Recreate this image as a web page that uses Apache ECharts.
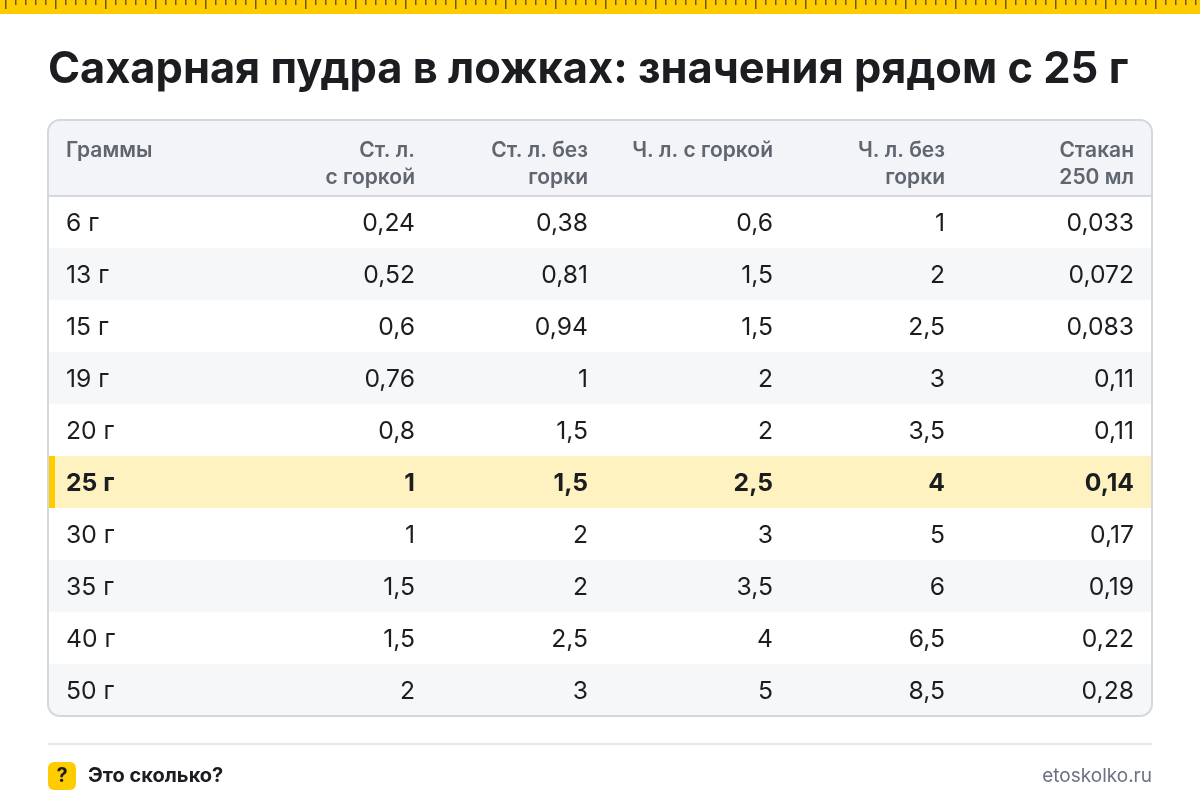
<!DOCTYPE html>
<html><head><meta charset="UTF-8">
<title>Сахарная пудра в ложках</title>
<script src="https://cdn.jsdelivr.net/npm/echarts@6/dist/echarts.min.js"></script>
<style>
  *{margin:0;padding:0}
  html,body{width:1200px;height:808px;background:#fff;overflow:hidden}
  #chart{width:1200px;height:808px}
</style>
</head>
<body>
<div id="chart"></div>
<script>
var titleText = 'Сахарная пудра в ложках: значения рядом с 25 г';
var headers = ['Граммы', 'Ст. л.\nс горкой', 'Ст. л. без\nгорки', 'Ч. л. с горкой', 'Ч. л. без\nгорки', 'Стакан\n250 мл'];
var grams = ['6 г', '13 г', '15 г', '19 г', '20 г', '25 г', '30 г', '35 г', '40 г', '50 г'];
var tbspHeaped = ['0,24', '0,52', '0,6', '0,76', '0,8', '1', '1', '1,5', '1,5', '2'];
var tbspLevel = ['0,38', '0,81', '0,94', '1', '1,5', '1,5', '2', '2', '2,5', '3'];
var tspHeaped = ['0,6', '1,5', '1,5', '2', '2', '2,5', '3', '3,5', '4', '5'];
var tspLevel = ['1', '2', '2,5', '3', '3,5', '4', '5', '6', '6,5', '8,5'];
var glass = ['0,033', '0,072', '0,083', '0,11', '0,11', '0,14', '0,17', '0,19', '0,22', '0,28'];
var highlightRow = '25 г';

var columns = [grams, tbspHeaped, tbspLevel, tspHeaped, tspLevel, glass];
var colX = [66, 415, 588, 773, 945, 1134]; // первая колонка влево, остальные вправо
var FONT = 'Inter, "Noto Sans", sans-serif';
var INK = '#1c1d21';

var cells = [];
columns.forEach(function (col, c) {
  col.forEach(function (v, r) {
    cells.push([colX[c], grams[r], v, c]);
  });
});

// линейка сверху
var ruler = [{ type: 'rect', shape: { x: 0, y: 0, width: 1200, height: 14 }, style: { fill: '#ffcc00' }, z: 1 }];
for (var i = 0; i < 120; i++) {
  var x = 5 + i * 10;
  var h = (i % 5 === 0) ? 9 : 5;
  ruler.push({ type: 'rect', shape: { x: x, y: 0, width: 1.5, height: h }, style: { fill: '#6b5a12' }, z: 2 });
}

var headerTexts = headers.map(function (t, c) {
  return {
    type: 'text', z: 5,
    style: {
      x: colX[c], y: 137, text: t, fill: '#5f6670',
      font: '600 21px ' + FONT, lineHeight: 27,
      textAlign: c === 0 ? 'left' : 'right', textVerticalAlign: 'top'
    }
  };
});

var chart = echarts.init(document.getElementById('chart'), null, { renderer: 'canvas' });
chart.setOption({
  animation: false,
  backgroundColor: '#fff',
  title: {
    text: titleText, left: 48, top: 48, padding: 0,
    textStyle: { fontFamily: FONT, fontSize: 43.4, fontWeight: 700, color: INK }
  },
  tooltip: { show: false },
  grid: { left: 0, top: 196, width: 1200, height: 520 },
  xAxis: { type: 'value', min: 0, max: 1200, show: false },
  yAxis: { type: 'category', data: grams, inverse: true, show: false },
  series: [
    {
      type: 'custom', name: 'rows', silent: true, clip: false, z: 2,
      data: grams.map(function (g) { return [0, g]; }),
      encode: { x: 0, y: 1 },
      renderItem: function (params, api) {
        var r = params.dataIndex;
        var y = api.coord([0, r])[1];
        var band = api.size([0, 1])[1];
        var top = y - band / 2;
        var isHi = grams[r] === highlightRow;
        var fill = isHi ? '#fef2c0' : (r % 2 === 1 ? '#f6f7f9' : '#ffffff');
        var children = [{
          type: 'rect',
          shape: { x: 49, y: top, width: 1102, height: band, r: r === grams.length - 1 ? [0, 0, 11, 11] : 0 },
          style: { fill: fill }
        }];
        if (isHi) {
          children.push({ type: 'rect', shape: { x: 49, y: top, width: 6, height: band }, style: { fill: '#ffcc00' } });
        }
        return { type: 'group', children: children };
      }
    },
    {
      type: 'custom', name: 'cells', silent: true, clip: false, z: 3,
      data: cells,
      encode: { x: 0, y: 1 },
      renderItem: function (params, api) {
        var d = cells[params.dataIndex];
        var p = api.coord([d[0], grams.indexOf(d[1])]);
        var isHi = d[1] === highlightRow;
        return {
          type: 'text',
          style: {
            x: p[0], y: p[1] + 2, text: d[2], fill: INK,
            font: (isHi ? '700' : '400') + ' 24.7px ' + FONT,
            textAlign: d[3] === 0 ? 'left' : 'right', textVerticalAlign: 'middle'
          }
        };
      }
    }
  ],
  graphic: ruler.concat([
    { type: 'rect', z: 0, shape: { x: 48, y: 120, width: 1104, height: 76, r: [12, 12, 0, 0] }, style: { fill: '#f3f4f7' } },
    { type: 'rect', z: 6, shape: { x: 48, y: 195, width: 1104, height: 2 }, style: { fill: '#d3d8e0' } },
    { type: 'rect', z: 7, shape: { x: 48, y: 120, width: 1104, height: 596, r: 12 }, style: { fill: 'none', stroke: '#d3d8e0', lineWidth: 2 } },
    { type: 'rect', z: 1, shape: { x: 48, y: 743, width: 1104, height: 2 }, style: { fill: '#e6e8ec' } },
    { type: 'rect', z: 1, shape: { x: 48, y: 762, width: 28, height: 28, r: 6 }, style: { fill: '#ffcc00' } },
    { type: 'text', z: 2, style: { x: 62, y: 776, text: '?', fill: INK, font: '700 20px ' + FONT, textAlign: 'center', textVerticalAlign: 'middle' } },
    { type: 'text', z: 2, style: { x: 88, y: 776, text: 'Это сколько?', fill: INK, font: '700 20px ' + FONT, textAlign: 'left', textVerticalAlign: 'middle' } },
    { type: 'text', z: 2, style: { x: 1152, y: 776, text: 'etoskolko.ru', fill: '#6b7280', font: '400 19px ' + FONT, textAlign: 'right', textVerticalAlign: 'middle' } }
  ]).concat(headerTexts)
});
</script>
</body></html>
